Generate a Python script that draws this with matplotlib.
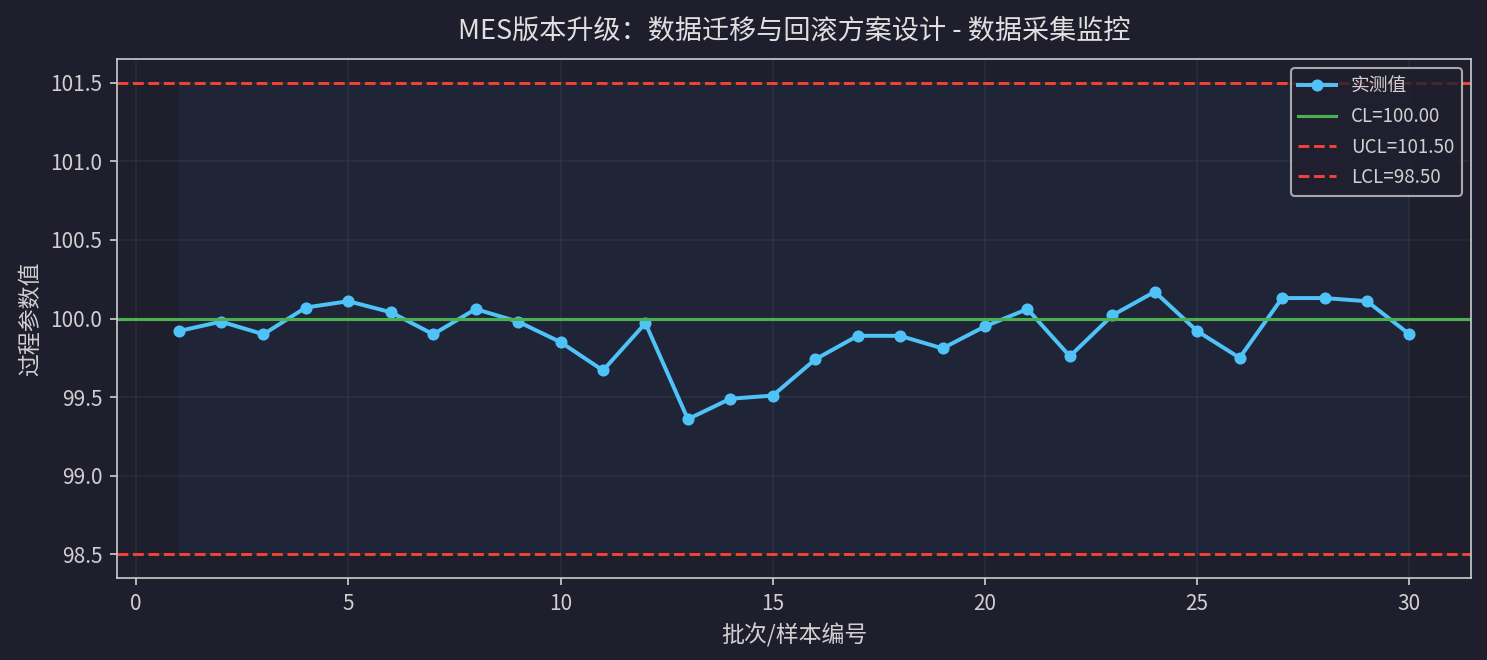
import numpy as np
import matplotlib
matplotlib.use('Agg')
import matplotlib.pyplot as plt

plt.rcParams['font.family'] = ['Noto Sans CJK SC', 'DejaVu Sans']
plt.rcParams['axes.unicode_minus'] = False

# 数据
batch = list(range(1, 31))
values = [99.92, 99.98, 99.90, 100.07, 100.11, 100.04, 99.90, 100.06, 99.98, 99.85,
          99.67, 99.97, 99.36, 99.49, 99.51, 99.74, 99.89, 99.89, 99.81, 99.95,
          100.06, 99.76, 100.02, 100.17, 99.92, 99.75, 100.13, 100.13, 100.11, 99.90]
cl = 100.0
ucl = 101.5
lcl = 98.5

bg = '#1f1e2d'
fg = '#d0d0d0'

fig = plt.figure(figsize=(1487 / 150, 660 / 150), dpi=150, facecolor=bg)
ax = fig.add_axes([0.0787, 0.1242, 0.9105, 0.7864])
ax.set_facecolor(bg)

ax.fill_between(batch, lcl, ucl, color='#2196f3', alpha=0.05, linewidth=0)
ax.plot(batch, values, color='#4fc3f7', lw=1.9, marker='o', markersize=4.8, label='实测值')
ax.axhline(cl, color='#4caf50', lw=1.5, label=f'CL={cl:.2f}')
ax.axhline(ucl, color='#f44336', lw=1.4, ls='--', label=f'UCL={ucl:.2f}')
ax.axhline(lcl, color='#f44336', lw=1.4, ls='--', label=f'LCL={lcl:.2f}')

ax.grid(True, color='#ffffff', alpha=0.05, lw=0.8)
for s in ax.spines.values():
    s.set_color('#cccccc')
ax.tick_params(colors=fg, labelsize=10)

ax.set_title('MES版本升级：数据迁移与回滚方案设计 - 数据采集监控', color='#e0e0e0', fontsize=13, pad=10)
ax.set_xlabel('批次/样本编号', color=fg, fontsize=11)
ax.set_ylabel('过程参数值', color=fg, fontsize=11)

leg = ax.legend(loc='upper right', fontsize=9, facecolor=bg, edgecolor='#cccccc', framealpha=0.8)
for t in leg.get_texts():
    t.set_color(fg)

fig.savefig('out.png', dpi=150, facecolor=bg)
